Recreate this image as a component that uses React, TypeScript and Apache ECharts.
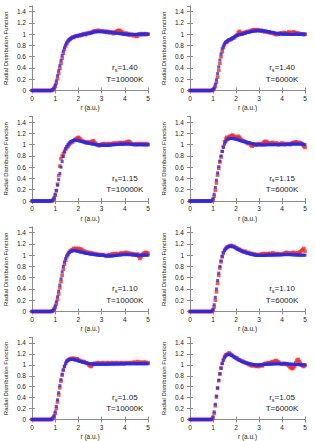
import React, { useEffect, useRef } from 'react';
import * as echarts from 'echarts';

// r grid (a.u.), step 0.05 from 0 to 5
const R_VALUES: number[] = Array.from({ length: 101 }, (_, i) => Math.round(i * 5) / 100);

const X_TICKS = [0, 1, 2, 3, 4, 5];
const Y_TICKS = [0, 0.2, 0.4, 0.6, 0.8, 1, 1.2, 1.4];

// rs = 1.40, T = 10000K
const rs140T10000Blue = [
  0,0,0,0,0,0,0,0,0,0,0,0,0,0,0,0,0,0.005,0.02,0.05,
  0.1,0.17,0.26,0.35,0.44,0.53,0.62,0.7,0.76,0.81,0.85,0.88,0.9,0.92,0.93,0.94,0.95,0.96,0.965,0.97,
  0.975,0.98,0.985,0.99,0.995,1.0,1.0,1.005,1.01,1.015,1.02,1.025,1.03,1.035,1.04,1.04,1.045,1.045,1.045,1.045,
  1.045,1.045,1.045,1.04,1.04,1.04,1.035,1.035,1.03,1.03,1.025,1.02,1.02,1.015,1.015,1.01,1.01,1.005,1.005,1.0,
  1.0,1.0,1.0,0.998,0.996,0.995,0.995,0.995,0.995,0.995,0.996,0.997,0.998,0.999,1.0,1.0,1.0,1.0,1.0,1.0,
  1.0,
];
const rs140T10000Red = [
  0,0,0,0,0,0,0,0,0,0,0,0,0,0,0,0,0,0,0.01,0.03,
  0.07,0.13,0.21,0.3,0.39,0.48,0.57,0.66,0.73,0.79,0.83,0.87,0.9,0.91,0.93,0.95,0.94,0.96,0.97,0.96,
  0.98,0.97,0.99,0.98,1.0,1.01,0.99,1.01,1.02,1.01,1.03,1.02,1.04,1.05,1.06,1.05,1.06,1.07,1.05,1.06,
  1.05,1.06,1.04,1.05,1.03,1.05,1.04,1.02,1.04,1.03,1.01,1.03,1.04,1.05,1.06,1.07,1.06,1.04,1.03,1.01,
  1.0,1.02,0.99,1.01,0.98,0.99,1.0,0.98,0.97,0.99,0.96,0.97,1.0,0.99,1.01,0.99,1.0,1.01,0.99,1.0,
  1.0,
];

// rs = 1.40, T = 6000K
const rs140T6000Blue = [
  0,0,0,0,0,0,0,0,0,0,0,0,0,0,0,0,0,0,0,0.005,
  0.02,0.05,0.11,0.19,0.3,0.42,0.54,0.65,0.74,0.79,0.83,0.86,0.87,0.89,0.9,0.91,0.92,0.93,0.94,0.96,
  0.97,0.98,0.985,0.99,0.995,1.0,1.005,1.01,1.02,1.025,1.03,1.035,1.04,1.045,1.05,1.05,1.055,1.055,1.06,1.06,
  1.06,1.06,1.06,1.06,1.055,1.055,1.05,1.05,1.045,1.04,1.035,1.03,1.03,1.025,1.02,1.015,1.01,1.01,1.005,1.005,
  1.0,1.0,1.0,1.0,1.0,0.998,0.996,0.995,0.995,0.995,0.995,0.996,0.997,0.998,1.0,1.0,1.0,1.0,1.0,1.0,
  1.0,
];
const rs140T6000Red = [
  0,0,0,0,0,0,0,0,0,0,0,0,0,0,0,0,0,0,0,0,
  0.01,0.03,0.07,0.14,0.24,0.36,0.48,0.6,0.69,0.76,0.81,0.85,0.86,0.88,0.9,0.9,0.91,0.93,0.93,0.95,
  0.97,0.99,1.03,1.05,1.02,1.0,1.02,1.03,1.02,1.04,1.05,1.04,1.05,1.06,1.07,1.08,1.07,1.08,1.07,1.08,
  1.07,1.06,1.07,1.05,1.06,1.04,1.05,1.04,1.03,1.04,1.02,1.03,1.02,1.01,1.0,0.99,1.01,1.0,1.02,1.01,
  1.02,1.01,1.03,1.02,1.0,1.02,1.04,1.01,1.03,1.02,1.04,1.03,1.02,1.01,1.02,1.0,1.01,1.0,1.0,0.99,
  1.0,
];

// rs = 1.15, T = 10000K
const rs115T10000Blue = [
  0,0,0,0,0,0,0,0,0,0,0,0,0,0,0,0,0,0.005,0.02,0.06,
  0.12,0.19,0.28,0.38,0.49,0.6,0.7,0.79,0.87,0.93,0.97,1.0,1.03,1.05,1.06,1.07,1.075,1.08,1.08,1.075,
  1.07,1.065,1.06,1.055,1.05,1.045,1.04,1.035,1.03,1.025,1.02,1.015,1.01,1.01,1.005,1.0,1.0,0.995,0.995,0.99,
  0.99,0.99,0.99,0.99,0.99,0.99,0.99,0.99,0.995,0.995,1.0,1.0,1.0,1.005,1.005,1.005,1.01,1.01,1.01,1.01,
  1.01,1.01,1.01,1.01,1.01,1.005,1.005,1.005,1.0,1.0,1.0,1.0,1.0,1.0,1.0,1.0,1.0,1.0,1.0,1.0,
  1.0,
];
const rs115T10000Red = [
  0,0,0,0,0,0,0,0,0,0,0,0,0,0,0,0,0,0,0.01,0.04,
  0.1,0.18,0.3,0.45,0.62,0.75,0.8,0.84,0.88,0.92,0.95,0.97,1.0,1.02,1.04,1.05,1.07,1.09,1.1,1.12,
  1.13,1.11,1.09,1.07,1.06,1.05,1.04,1.03,1.05,1.04,1.03,1.05,1.06,1.07,1.04,1.02,1.0,0.99,0.98,1.0,
  1.01,1.0,1.02,1.01,0.99,1.01,1.02,1.0,1.01,1.02,1.01,1.03,1.02,1.01,1.03,1.02,1.04,1.03,1.01,1.03,
  1.04,1.03,1.05,1.06,1.05,1.03,1.02,1.01,1.0,1.01,1.02,1.0,1.01,1.02,1.01,1.0,1.02,1.01,1.0,1.02,
  1.0,
];

// rs = 1.15, T = 6000K
const rs115T6000Blue = [
  0,0,0,0,0,0,0,0,0,0,0,0,0,0,0,0,0,0,0,0.01,
  0.04,0.12,0.24,0.37,0.5,0.61,0.71,0.8,0.88,0.95,1.01,1.05,1.08,1.095,1.105,1.11,1.11,1.11,1.105,1.1,
  1.095,1.09,1.085,1.075,1.07,1.065,1.06,1.055,1.05,1.045,1.04,1.035,1.03,1.025,1.02,1.015,1.01,1.005,1.0,1.0,
  1.0,0.998,0.997,0.996,0.996,0.996,0.997,0.998,1.0,1.0,1.0,1.0,1.0,1.0,1.0,1.0,1.0,1.0,1.0,1.0,
  1.0,1.0,1.0,1.005,1.005,1.005,1.005,1.01,1.01,1.01,1.01,1.01,1.01,1.01,1.01,1.01,1.01,1.01,1.01,1.005,
  1.0,
];
const rs115T6000Red = [
  0,0,0,0,0,0,0,0,0,0,0,0,0,0,0,0,0,0,0,0,
  0.02,0.08,0.19,0.32,0.46,0.58,0.69,0.78,0.88,0.97,1.05,1.1,1.13,1.12,1.14,1.15,1.16,1.17,1.15,1.14,
  1.13,1.12,1.15,1.13,1.1,1.08,1.07,1.06,1.05,1.04,1.02,1.03,1.02,0.99,0.97,0.99,1.01,1.0,0.99,1.02,
  1.01,1.0,1.02,1.01,1.04,1.05,1.06,1.04,1.03,1.02,1.03,1.02,1.04,1.02,1.01,1.03,1.02,1.0,1.01,1.02,
  1.03,1.01,1.02,1.0,1.01,1.02,1.01,1.0,1.02,1.03,1.04,1.03,1.05,1.04,1.03,1.04,1.03,1.02,1.0,0.97,
  0.95,
];

// rs = 1.10, T = 10000K
const rs110T10000Blue = [
  0,0,0,0,0,0,0,0,0,0,0,0,0,0,0,0,0,0.005,0.02,0.05,
  0.1,0.17,0.26,0.36,0.47,0.58,0.7,0.8,0.88,0.94,0.99,1.02,1.045,1.06,1.07,1.075,1.08,1.08,1.075,1.07,
  1.065,1.06,1.055,1.05,1.045,1.04,1.035,1.03,1.03,1.025,1.02,1.02,1.015,1.015,1.01,1.01,1.005,1.005,1.0,1.0,
  1.0,1.0,0.995,0.995,0.99,0.99,0.985,0.985,0.985,0.985,0.99,0.99,0.995,0.995,1.0,1.0,1.005,1.005,1.01,1.01,
  1.01,1.01,1.01,1.01,1.01,1.01,1.005,1.005,1.005,1.0,1.0,1.0,1.0,1.0,1.0,1.0,1.0,1.0,1.0,1.0,
  1.0,
];
const rs110T10000Red = [
  0,0,0,0,0,0,0,0,0,0,0,0,0,0,0,0,0,0,0.01,0.03,
  0.07,0.13,0.21,0.31,0.42,0.53,0.64,0.75,0.84,0.91,0.97,1.01,1.05,1.08,1.09,1.1,1.12,1.11,1.12,1.1,
  1.12,1.1,1.11,1.09,1.08,1.07,1.06,1.05,1.04,1.05,1.03,1.04,1.03,1.02,1.03,1.01,1.02,1.01,1.0,1.01,
  1.0,1.01,1.0,0.99,0.98,1.0,0.99,1.01,1.0,1.02,1.01,1.02,1.03,1.02,1.01,1.02,1.03,1.04,1.02,1.03,
  1.04,1.05,1.03,1.04,1.03,1.02,1.03,1.01,1.02,1.01,1.0,1.02,0.98,0.94,0.97,1.01,1.03,1.04,1.05,1.04,
  1.03,
];

// rs = 1.10, T = 6000K
const rs110T6000Blue = [
  0,0,0,0,0,0,0,0,0,0,0,0,0,0,0,0,0,0,0,0.01,
  0.04,0.12,0.25,0.4,0.55,0.68,0.8,0.9,0.98,1.04,1.08,1.11,1.13,1.145,1.155,1.16,1.16,1.155,1.15,1.14,
  1.125,1.11,1.1,1.09,1.08,1.07,1.06,1.055,1.05,1.04,1.035,1.03,1.025,1.02,1.015,1.01,1.005,1.0,1.0,0.998,
  0.996,0.995,0.995,0.995,0.995,0.996,0.997,0.998,1.0,1.0,1.0,1.0,1.0,1.002,1.004,1.005,1.005,1.006,1.007,1.008,
  1.01,1.01,1.01,1.01,1.01,1.01,1.01,1.01,1.008,1.006,1.005,1.004,1.003,1.002,1.0,1.0,1.0,1.0,1.0,1.0,
  1.0,
];
const rs110T6000Red = [
  0,0,0,0,0,0,0,0,0,0,0,0,0,0,0,0,0,0,0,0,
  0.02,0.08,0.2,0.35,0.5,0.64,0.77,0.88,0.97,1.04,1.09,1.12,1.14,1.15,1.16,1.17,1.17,1.15,1.16,1.14,
  1.13,1.12,1.11,1.1,1.09,1.08,1.07,1.06,1.07,1.05,1.04,1.05,1.03,1.02,1.03,1.01,1.02,1.01,1.0,1.01,
  1.0,1.01,1.02,1.01,1.03,1.02,1.01,1.02,1.03,1.02,1.03,1.02,1.04,1.03,1.02,1.01,1.03,1.02,1.01,1.02,
  1.01,1.03,1.02,1.04,1.05,1.03,1.04,1.03,1.02,1.04,1.05,1.03,1.02,1.04,1.03,1.05,1.06,1.08,1.1,1.12,
  1.07,
];

// rs = 1.05, T = 10000K
const rs105T10000Blue = [
  0,0,0,0,0,0,0,0,0,0,0,0,0,0,0,0,0,0.01,0.03,0.07,
  0.14,0.24,0.36,0.49,0.62,0.73,0.83,0.91,0.97,1.02,1.06,1.08,1.095,1.1,1.1,1.1,1.095,1.09,1.085,1.08,
  1.07,1.065,1.06,1.055,1.05,1.045,1.04,1.035,1.03,1.025,1.02,1.02,1.015,1.015,1.01,1.01,1.01,1.01,1.01,1.01,
  1.01,1.01,1.01,1.01,1.01,1.012,1.012,1.012,1.014,1.014,1.014,1.015,1.015,1.016,1.016,1.017,1.017,1.018,1.018,1.018,
  1.019,1.019,1.02,1.02,1.02,1.02,1.02,1.02,1.02,1.02,1.02,1.02,1.02,1.02,1.02,1.02,1.02,1.02,1.02,1.02,
  1.02,
];
const rs105T10000Red = [
  0,0,0,0,0,0,0,0,0,0,0,0,0,0,0,0,0,0,0.02,0.05,
  0.11,0.2,0.32,0.45,0.58,0.7,0.81,0.9,0.97,1.03,1.07,1.09,1.1,1.11,1.12,1.11,1.12,1.11,1.1,1.11,
  1.09,1.08,1.07,1.06,1.05,1.06,1.04,1.03,1.02,1.0,0.98,0.97,1.0,1.02,1.03,1.02,1.03,1.04,1.03,1.02,
  1.03,1.04,1.03,1.02,1.03,1.04,1.03,1.02,1.03,1.04,1.03,1.02,1.03,1.04,1.03,1.02,1.03,1.04,1.03,1.02,
  1.03,1.04,1.03,1.03,1.04,1.03,1.04,1.03,1.05,1.04,1.03,1.06,1.03,1.04,1.05,1.03,1.04,1.05,1.04,1.03,
  1.04,
];

// rs = 1.05, T = 6000K
const rs105T6000Blue = [
  0,0,0,0,0,0,0,0,0,0,0,0,0,0,0,0,0,0,0,0.01,
  0.05,0.14,0.28,0.43,0.58,0.72,0.84,0.94,1.02,1.08,1.13,1.16,1.18,1.19,1.19,1.185,1.175,1.165,1.15,1.135,
  1.12,1.105,1.095,1.085,1.075,1.065,1.055,1.05,1.04,1.035,1.03,1.025,1.02,1.015,1.01,1.005,1.0,1.0,1.0,1.0,
  1.0,1.0,1.0,1.003,1.005,1.007,1.008,1.01,1.01,1.012,1.013,1.015,1.015,1.016,1.017,1.018,1.019,1.02,1.02,1.02,
  1.02,1.02,1.02,1.02,1.018,1.016,1.015,1.013,1.012,1.01,1.01,1.008,1.006,1.005,1.004,1.003,1.002,1.0,1.0,1.0,
  1.0,
];
const rs105T6000Red = [
  0,0,0,0,0,0,0,0,0,0,0,0,0,0,0,0,0,0,0,0,
  0.03,0.11,0.25,0.41,0.57,0.71,0.83,0.94,1.03,1.1,1.15,1.18,1.19,1.2,1.22,1.2,1.18,1.17,1.15,1.14,
  1.13,1.12,1.1,1.09,1.08,1.07,1.06,1.05,1.04,1.03,1.02,1.01,1.0,0.99,0.98,1.0,0.99,0.98,0.97,0.98,
  0.97,0.99,1.0,0.98,1.01,1.02,1.03,1.02,1.04,1.03,1.04,1.05,1.06,1.05,1.07,1.08,1.06,1.05,1.03,1.02,
  1.01,1.02,1.03,1.01,1.02,1.0,0.98,0.96,0.94,0.93,0.95,0.98,1.04,1.08,1.1,1.06,1.03,1.0,0.98,0.97,
  0.99,
];

const PANELS = [
  { rs: '1.40', T: '10000K', red: rs140T10000Red, blue: rs140T10000Blue },
  { rs: '1.40', T: '6000K', red: rs140T6000Red, blue: rs140T6000Blue },
  { rs: '1.15', T: '10000K', red: rs115T10000Red, blue: rs115T10000Blue },
  { rs: '1.15', T: '6000K', red: rs115T6000Red, blue: rs115T6000Blue },
  { rs: '1.10', T: '10000K', red: rs110T10000Red, blue: rs110T10000Blue },
  { rs: '1.10', T: '6000K', red: rs110T6000Red, blue: rs110T6000Blue },
  { rs: '1.05', T: '10000K', red: rs105T10000Red, blue: rs105T10000Blue },
  { rs: '1.05', T: '6000K', red: rs105T6000Red, blue: rs105T6000Blue },
];

const COL_LEFT = [32, 190];
const COL_W = [116, 115];
const ROW_TOP = [6, 116.5, 227, 337.5];
const ROW_H = 84.5;

const FONT = 'Liberation Sans, Arial, Helvetica, sans-serif';
const BORDER = '#8c8c8c';
const TXT = '#1a1a1a';
const RED = '#ff2a1a';
const BLUE = '#1f2bff';

export default function App() {
  const ref = useRef<HTMLDivElement>(null);
  useEffect(() => {
    if (!ref.current) return;
    const chart = echarts.init(ref.current, null, { renderer: 'svg' });
    const grids: any[] = [];
    const xAxes: any[] = [];
    const yAxes: any[] = [];
    const series: any[] = [];
    const lineStyle = { color: BORDER, width: 1 };
    PANELS.forEach((p, i) => {
      const col = i % 2;
      const row = Math.floor(i / 2);
      grids.push({ left: COL_LEFT[col], width: COL_W[col], top: ROW_TOP[row], height: ROW_H, containLabel: false });
      xAxes.push({
        gridIndex: i, type: 'value', min: X_TICKS[0], max: X_TICKS[X_TICKS.length - 1], interval: 1, position: 'bottom',
        name: 'r (a.u.)', nameLocation: 'middle', nameGap: 13.5,
        nameTextStyle: { color: TXT, fontSize: 6.5, fontFamily: FONT },
        axisLine: { show: true, lineStyle }, axisTick: { show: true, inside: true, length: 3, lineStyle },
        axisLabel: { color: TXT, fontSize: 6.5, fontFamily: FONT, margin: 4 },
        splitLine: { show: false },
      });
      xAxes.push({
        gridIndex: i, type: 'value', min: X_TICKS[0], max: X_TICKS[X_TICKS.length - 1], interval: 1, position: 'top',
        axisLine: { show: true, lineStyle }, axisTick: { show: true, inside: true, length: 3, lineStyle },
        axisLabel: { show: false }, splitLine: { show: false },
      });
      yAxes.push({
        gridIndex: i, type: 'value', min: Y_TICKS[0], max: 1.5, interval: 0.2, position: 'left',
        name: 'Radial Distribution Function', nameLocation: 'middle', nameGap: 23,
        nameTextStyle: { color: TXT, fontSize: 6, fontFamily: FONT },
        axisLine: { show: true, lineStyle }, axisTick: { show: true, inside: true, length: 3, lineStyle },
        axisLabel: { color: TXT, fontSize: 6.5, fontFamily: FONT, margin: 6, showMaxLabel: false },
        splitLine: { show: false },
      });
      yAxes.push({
        gridIndex: i, type: 'value', min: Y_TICKS[0], max: 1.5, interval: 0.2, position: 'right',
        axisLine: { show: true, lineStyle }, axisTick: { show: true, inside: true, length: 3, lineStyle },
        axisLabel: { show: false }, splitLine: { show: false },
      });
      series.push({
        type: 'scatter', xAxisIndex: 2 * i, yAxisIndex: 2 * i, silent: true,
        symbol: 'rect', symbolSize: 3.6, itemStyle: { color: RED },
        data: R_VALUES.map((r, k) => [r, p.red[k]]),
      });
      series.push({
        type: 'scatter', xAxisIndex: 2 * i, yAxisIndex: 2 * i, silent: true,
        symbol: 'rect', symbolSize: 3, itemStyle: { color: BLUE },
        data: R_VALUES.map((r, k) => [r, p.blue[k]]),
      });
    });
    chart.setOption({ animation: false, grid: grids, xAxis: xAxes, yAxis: yAxes, series });

    const graphics: any[] = [];
    PANELS.forEach((p, i) => {
      const finder = { xAxisIndex: 2 * i, yAxisIndex: 2 * i };
      const a = chart.convertToPixel(finder as any, [4, 0.4]) as number[];
      const b = chart.convertToPixel(finder as any, [4, 0.2]) as number[];
      graphics.push({
        type: 'text', x: a[0], y: a[1], silent: true,
        style: {
          text: '{a|r}{s|s}{a|=' + p.rs + '}',
          align: 'center', verticalAlign: 'middle', fill: TXT,
          rich: {
            a: { fontSize: 8, fontFamily: FONT, fill: TXT, lineHeight: 10 },
            s: { fontSize: 5.5, fontFamily: FONT, fill: TXT, lineHeight: 10, padding: [4, 0, 0, 0] },
          },
        },
      });
      graphics.push({
        type: 'text', x: b[0], y: b[1], silent: true,
        style: { text: 'T=' + p.T, align: 'center', verticalAlign: 'middle', fill: TXT, fontSize: 8, fontFamily: FONT },
      });
    });
    chart.setOption({ graphic: graphics });
    return () => chart.dispose();
  }, []);
  return <div ref={ref} style={{ position: 'absolute', left: 0, top: 0, width: 315, height: 441 }} />;
}
